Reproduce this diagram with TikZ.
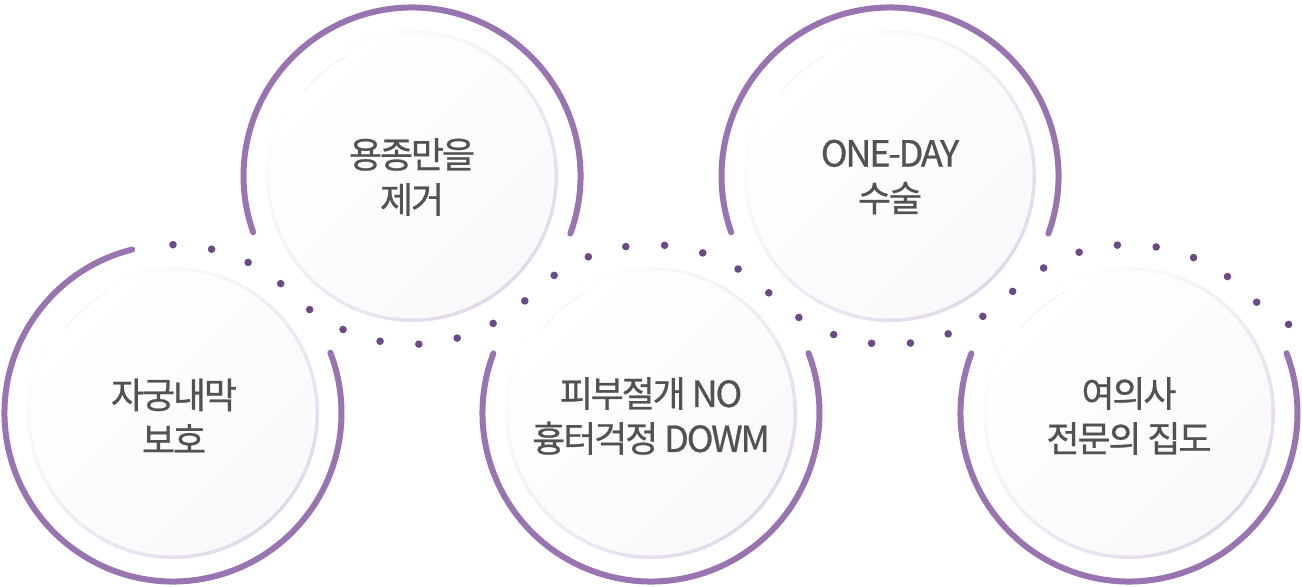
\documentclass[tikz,border=0pt]{standalone}
\usepackage{fontspec}
\usetikzlibrary{positioning}
\newfontfamily\krfont[LetterSpace=-6, RawFeature={embolden=0.7}]{Noto Sans CJK KR}
\definecolor{arcpurple}{RGB}{152,117,176}
\definecolor{dotpurple}{RGB}{108,74,134}
\definecolor{ringline}{RGB}{226,216,236}
\definecolor{discfill}{RGB}{249,249,251}
\definecolor{textgray}{RGB}{82,82,82}
\tikzset{
  pics/ring/.style args={#1,#2}{
     code={
       \shade[top color=white, bottom color=ringline, shading angle=45] (0,0) circle[radius=146];
       \shade[top color=white, bottom color=discfill, shading angle=45] (0,0) circle[radius=142.5];
       \draw[gray!12, line width=0.4pt] (118:137) arc[start angle=118, end angle=142, radius=137];
       \draw[line width=3pt, arcpurple, line cap=round] (#1:168.5) arc[start angle=#1, end angle=#2, radius=168.5];
     }
  }
}

\begin{document}
\begin{tikzpicture}
	    [x=0.5pt, y=0.5pt,
	    ringtext/.style={font=\krfont\fontsize{18pt}{22.5pt}\selectfont, text=textgray, align=center, inner sep=0pt},
	    dotwave/.style={dotpurple, line width=3.8pt, line cap=round, dash pattern=on 0pt off 19.47pt}]
	     \useasboundingbox (0,0) rectangle (1302,586);
	     \draw[] (173,173) pic{ring={104,381}};
	     \draw[] (412,410) pic{ring={-20,199.5}};
	     \draw[] (651,173) pic{ring={159.3,380.8}};
	     \draw[] (890,410) pic{ring={-20,199.5}};
	     \draw[] (1129,173) pic{ring={159.3,380.8}};
	     \draw[dotwave] (173,173) ++(90:168.3)
	        arc[start angle=90, end angle=44.76, radius=168.3]
	        arc[start angle=224.76, end angle=315.24, radius=168.3]
	        arc[start angle=135.24, end angle=44.76, radius=168.3]
	        arc[start angle=224.76, end angle=315.24, radius=168.3]
	        arc[start angle=135.24, end angle=44.76, radius=168.3]
	        arc[start angle=224.76, end angle=244, radius=168.3];
	     \node[ringtext] (T1) at (174,170) {자궁내막\\보호};
	     \node[ringtext] (T2) at (412,409) {용종만을\\제거};
	     \node[ringtext] (T3) at (651,170) {피부절개 NO\\흉터걱정 DOWM};
	     \node[ringtext] (T4) at (890,409) {ONE-DAY\\수술};
	     \node[ringtext] (T5) at (1129,170) {여의사\\전문의 집도};
\end{tikzpicture}
\end{document}
